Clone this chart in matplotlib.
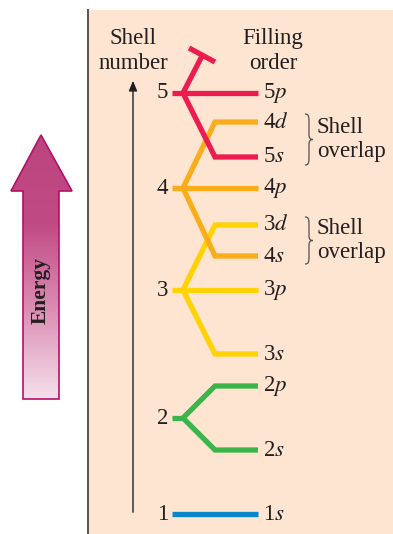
import matplotlib.pyplot as plt
import numpy as np
from matplotlib.patches import Polygon, PathPatch
from matplotlib.path import Path
from matplotlib.colors import LinearSegmentedColormap

plt.rcParams['font.family'] = ['Liberation Serif', 'DejaVu Serif']
plt.rcParams['mathtext.fontset'] = 'stix'

# energy levels (arbitrary units, higher = more energy)
SHELLS = [1, 2, 3, 4, 5]
SHELL_ENERGY = [20, 116, 244, 346, 441]
SHELL_COLORS = ["#0a86cc", "#3bb54a", "#ffd200", "#f9ad1a", "#ec1c4e"]

SUBSHELLS = {
    1: [("1s", 20)],
    2: [("2s", 84), ("2p", 148)],
    3: [("3s", 180), ("3p", 244), ("3d", 309)],
    4: [("4s", 278), ("4p", 346), ("4d", 412)],
    5: [("5s", 377), ("5p", 441)],
}
OVERLAPS = [(278, 309), (377, 412)]

BG = "#fde5d2"
TXT = "#231f20"
FS = 16.5

fig = plt.figure(figsize=(3.93, 5.34), dpi=100)
ax = fig.add_axes([0, 0, 1, 1])

# peach panel + left rule
ax.add_patch(plt.Rectangle((88, 0), 305, 524, facecolor=BG, edgecolor="none", zorder=0))
ax.plot([88, 88], [0, 524], color="#5a5050", lw=1.4, zorder=1)

# big energy arrow with gradient
arrow_pts = [(23, 135), (23, 343), (11, 343), (41, 399), (72, 343), (59, 343), (59, 135)]
poly = Polygon(arrow_pts, closed=True, facecolor="none", edgecolor="#b3106a", lw=1.2, zorder=3)
ax.add_patch(poly)
grad = np.linspace(0, 1, 256).reshape(-1, 1)
cmap = LinearSegmentedColormap.from_list("en", ["#f5e0ea", "#dc8fb4", "#c04a84", "#bc4580"])
im = ax.imshow(grad, extent=(11, 72, 135, 399), origin="lower", cmap=cmap,
               aspect="auto", zorder=2)
im.set_clip_path(poly)
ax.text(41, 244, "Energy", rotation=90, ha="center", va="center",
        fontsize=15.5, fontweight="bold", color=TXT, zorder=4)

# shell-number axis arrow
ax.annotate("", xy=(133, 456), xytext=(133, 19),
            arrowprops=dict(arrowstyle="-|>,head_width=0.25,head_length=0.6",
                            color=TXT, lw=1.0))

ax.text(133, 483, "Shell\nnumber", ha="center", va="center", fontsize=FS,
        color=TXT, linespacing=1.3)
ax.text(273, 483, "Filling\norder", ha="center", va="center", fontsize=FS,
        color=TXT, linespacing=1.3)

x_stub, x_node, x_bend, x_end, x_lab = 172, 183, 215, 258, 263
for n, e, c in zip(SHELLS, SHELL_ENERGY, SHELL_COLORS):
    ax.text(168, e, str(n), ha="right", va="center", fontsize=FS, color=TXT)
    if n == 1:
        ax.plot([x_stub, x_end], [e, e], color=c, lw=3.8, solid_capstyle="butt", zorder=5)
    else:
        ax.plot([x_stub, x_node], [e, e], color=c, lw=3.8, solid_capstyle="butt", zorder=5)
        for lab, es in SUBSHELLS[n]:
            if es == e:
                xs, ys = [x_node, x_end], [e, e]
            else:
                xs, ys = [x_node, x_bend, x_end], [e, es, es]
            ax.plot(xs, ys, color=c, lw=3.8, solid_capstyle="butt",
                    solid_joinstyle="miter", zorder=5)
    for lab, es in SUBSHELLS[n]:
        ax.text(x_lab, es, lab[0] + r"$\mathit{" + lab[1] + "}$", ha="left", va="center",
                fontsize=FS, color=TXT)

# shell 5 continues upward (cut off)
e5 = SHELL_ENERGY[4]
ax.plot([x_node, 202], [e5, 478], color=SHELL_COLORS[4], lw=3.8,
        solid_capstyle="butt", zorder=5)
ax.plot([189, 215], [486, 472], color=SHELL_COLORS[4], lw=3.8,
        solid_capstyle="butt", zorder=5)


def brace(x, y_lo, y_hi, w=8):
    h = y_hi - y_lo
    m = (y_lo + y_hi) / 2
    xm = x + w * 0.5
    verts = [(x, y_hi), (xm, y_hi), (xm, y_hi - 0.05 * h), (xm, y_hi - 0.2 * h),
             (xm, m + 0.1 * h),
             (xm, m + 0.02 * h), (x + 0.7 * w, m), (x + w, m),
             (x + 0.7 * w, m), (xm, m - 0.02 * h), (xm, m - 0.1 * h),
             (xm, y_lo + 0.2 * h),
             (xm, y_lo + 0.05 * h), (xm, y_lo), (x, y_lo)]
    codes = [Path.MOVETO, Path.CURVE4, Path.CURVE4, Path.CURVE4, Path.LINETO,
             Path.CURVE4, Path.CURVE4, Path.CURVE4,
             Path.CURVE4, Path.CURVE4, Path.CURVE4, Path.LINETO,
             Path.CURVE4, Path.CURVE4, Path.CURVE4]
    ax.add_patch(PathPatch(Path(verts, codes), facecolor="none", edgecolor="#555050",
                           lw=0.9, zorder=5))


for lo, hi in OVERLAPS:
    brace(305, lo - 8, hi + 8)
    ax.text(317, (lo + hi) / 2, "Shell\noverlap", ha="left", va="center",
            fontsize=FS, color=TXT, linespacing=1.15)

ax.set_xlim(0, 393)
ax.set_ylim(0, 534)
ax.axis("off")
fig.savefig("out.png", dpi=100)
